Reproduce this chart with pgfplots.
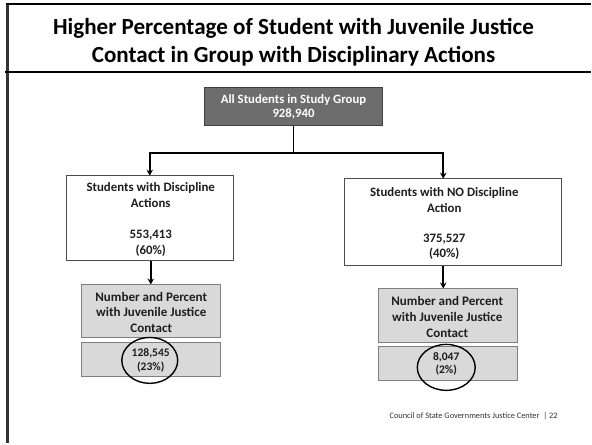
\documentclass[border=0pt]{standalone}
\usepackage{pgfplots}
\pgfplotsset{compat=1.18}
\usepackage{fontspec}
\setmainfont{Carlito}
\usetikzlibrary{arrows.meta}

\definecolor{topfill}{HTML}{6D6D6D}
\definecolor{topedge}{HTML}{3F3F3F}
\definecolor{lightfill}{HTML}{D9D9D9}
\definecolor{lightedge}{HTML}{7F7F7F}
\definecolor{txt}{HTML}{1E1E1E}

\begin{document}
\begin{tikzpicture}
\begin{axis}[
  width=592bp, height=444bp, scale only axis,
  xmin=0, xmax=592, ymin=0, ymax=444, y dir=reverse,
  hide axis, clip=false,
  every axis plot/.append style={line join=miter},
]
% page background
\addplot[draw=none, fill=white] coordinates {(0,0) (592,0) (592,444) (0,444)} -- cycle;

% slide frame and title rule
\addplot[line width=3bp, color=black!80] coordinates {(8,3) (8,444)};
\addplot[line width=2bp, black] coordinates {(6.5,4) (592,4)};
\addplot[line width=1.5bp, black] coordinates {(5,72) (592,72)};

% title
\node[align=center, text=black, font=\bfseries\fontsize{23.2}{28}\selectfont]
  at (axis cs:294,42) {Higher Percentage of Student with Juvenile Justice\\Contact in Group with Disciplinary Actions};

% top box
\node[draw=topedge, fill=topfill, line width=0.8bp, minimum width=178bp, minimum height=38bp, inner sep=0pt]
  at (axis cs:294,107) {};
\node[align=center, text=white, font=\bfseries\fontsize{12.8}{14}\selectfont]
  at (axis cs:294,107.5) {All Students in Study Group\\928,940};

% connectors
\addplot[line width=1.8bp, black] coordinates {(294,126) (294,153)};
\addplot[line width=1.8bp, black] coordinates {(150,153) (444,153)};
\addplot[line width=1.6bp, black, -{Stealth[length=6bp,width=6.5bp]}] coordinates {(150,152.1) (150,176)};
\addplot[line width=1.6bp, black, -{Stealth[length=6bp,width=6.5bp]}] coordinates {(444,152.1) (444,179)};

% second level boxes
\node[draw=black!70, fill=white, line width=0.8bp, minimum width=167bp, minimum height=85bp, inner sep=0pt]
  at (axis cs:150.5,218.5) {};
\node[align=center, text=txt, font=\bfseries\fontsize{12.9}{16}\selectfont]
  at (axis cs:151,220) {Students with Discipline\\Actions\\[15bp]553,413\\(60\%)};

\node[draw=black!70, fill=white, line width=0.8bp, minimum width=217bp, minimum height=87bp, inner sep=0pt]
  at (axis cs:453.5,222.5) {};
\node[align=center, text=txt, font=\bfseries\fontsize{12.9}{15.5}\selectfont]
  at (axis cs:445,224) {Students with NO Discipline\\Action\\[14.5bp]375,527\\(40\%)};

% arrows to the juvenile justice boxes
\addplot[line width=1.6bp, black, -{Stealth[length=6bp,width=6.5bp]}] coordinates {(151,261) (151,285)};
\addplot[line width=1.6bp, black, -{Stealth[length=6bp,width=6.5bp]}] coordinates {(444,266) (444,289)};

% juvenile justice boxes, left
\node[draw=lightedge, fill=lightfill, line width=0.9bp, minimum width=139bp, minimum height=53bp, inner sep=0pt]
  at (axis cs:151.5,311.5) {};
\node[align=center, text=txt, font=\bfseries\fontsize{13.1}{16}\selectfont]
  at (axis cs:151.5,313) {Number and Percent\\with Juvenile Justice\\Contact};
\node[draw=lightedge, fill=lightfill, line width=0.9bp, minimum width=139bp, minimum height=34bp, inner sep=0pt]
  at (axis cs:151.5,360) {};

% juvenile justice boxes, right
\node[draw=lightedge, fill=lightfill, line width=0.9bp, minimum width=139bp, minimum height=54bp, inner sep=0pt]
  at (axis cs:448.5,316) {};
\node[align=center, text=txt, font=\bfseries\fontsize{13.1}{16}\selectfont]
  at (axis cs:448,317.5) {Number and Percent\\with Juvenile Justice\\Contact};
\node[draw=lightedge, fill=lightfill, line width=0.9bp, minimum width=139bp, minimum height=34bp, inner sep=0pt]
  at (axis cs:448.5,364) {};

% circled values
\draw[line width=1.4bp, black] (axis cs:150,361) ellipse [x radius=28bp, y radius=23bp];
\node[align=center, text=txt, font=\bfseries\fontsize{11.6}{14}\selectfont]
  at (axis cs:151,361) {128,545\\(23\%)};
\draw[line width=1.4bp, black] (axis cs:447,368) ellipse [x radius=29bp, y radius=23bp];
\node[align=center, text=txt, font=\bfseries\fontsize{11.6}{13}\selectfont]
  at (axis cs:447,364.5) {8,047\\(2\%)};

% footer
\node[anchor=east, text=black!80, font=\fontsize{8.4}{9}\selectfont]
  at (axis cs:562,417) {Council of State Governments Justice Center~~|~22};
\end{axis}
\end{tikzpicture}
\end{document}
